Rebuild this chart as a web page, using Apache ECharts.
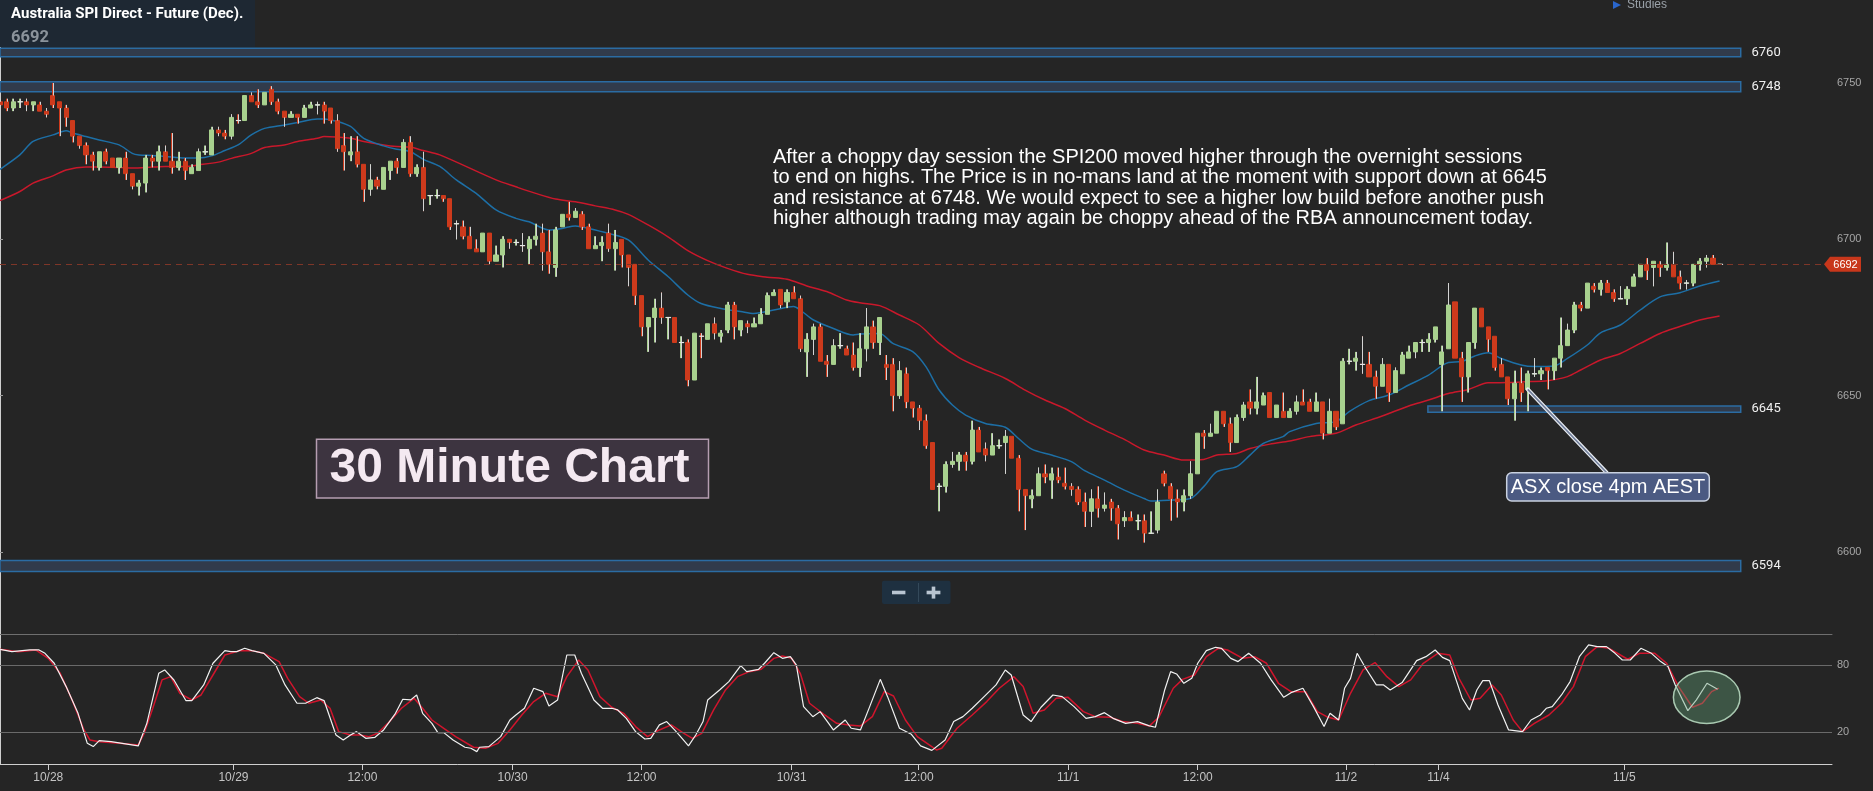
<!DOCTYPE html>
<html><head><meta charset="utf-8">
<script src="https://cdn.jsdelivr.net/npm/echarts@6/dist/echarts.min.js"></script>
<style>html,body{margin:0;padding:0;background:#252525;overflow:hidden}#c{width:1873px;height:791px}</style>
</head><body><div id="c"></div>
<script>
// ---------- DATA ----------
const titleText = 'Australia SPI Direct - Future (Dec).';
const lastPrice = 6692;
// 30-minute candles: [open, close, low, high]
const ohlc = [
[6744,6743,6742,6745],[6744,6742,6741,6745],[6742,6744,6741,6745],[6744,6744,6742,6745],[6744,6743,6741,6745],
[6743,6744,6741,6744],[6743,6741,6741,6744],[6741,6740,6739,6742],[6746,6743,6742,6750],[6744,6742,6733,6744],
[6742,6739,6736,6743],[6738,6733,6731,6738],[6733,6730,6729,6733],[6730,6727,6724,6731],[6727,6725,6722,6728],
[6723,6728,6722,6728],[6728,6725,6724,6729],[6726,6723,6723,6726],[6723,6726,6721,6726],[6726,6721,6719,6728],
[6721,6717,6716,6721],[6717,6718,6714,6719],[6718,6726,6715,6727],[6726,6725,6723,6727],[6725,6728,6722,6730],
[6728,6725,6725,6730],[6725,6723,6721,6734],[6723,6725,6722,6728],[6725,6722,6719,6726],[6721,6723,6721,6724],
[6722,6728,6722,6729],[6728,6728,6727,6730],[6727,6735,6727,6736],[6735,6734,6733,6736],[6734,6733,6732,6735],
[6733,6739,6732,6740],[6738,6738,6737,6740],[6738,6746,6738,6746],[6746,6744,6744,6747],[6744,6743,6742,6748],
[6743,6747,6743,6747],[6748,6744,6743,6749],[6744,6741,6740,6745],[6741,6739,6736,6741],[6739,6740,6739,6741],
[6740,6739,6737,6740],[6739,6742,6739,6743],[6742,6743,6742,6744],[6743,6743,6740,6744],[6743,6741,6737,6744],
[6742,6738,6737,6742],[6738,6729,6728,6740],[6730,6728,6722,6734],[6727,6728,6725,6733],[6728,6724,6723,6733],
[6724,6716,6712,6724],[6716,6719,6714,6724],[6719,6717,6716,6720],[6716,6723,6716,6723],[6722,6725,6719,6725],
[6725,6723,6721,6726],[6723,6731,6723,6732],[6731,6721,6720,6733],[6721,6723,6720,6724],[6723,6713,6709,6728],
[6714,6714,6711,6714],[6714,6714,6713,6716],
[6714,6713,6712,6714],[6713,6704,6703,6713],[6705,6705,6700,6706],[6704,6701,6700,6706],[6701,6697,6697,6704],
[6697,6696,6696,6700],[6696,6702,6696,6702],[6702,6693,6692,6702],[6693,6695,6693,6698],[6695,6700,6691,6701],
[6700,6699,6697,6700],[6699,6699,6698,6700],[6698,6698,6696,6702],[6697,6700,6692,6701],[6700,6701,6698,6705],
[6702,6696,6690,6705],[6696,6692,6689,6703],[6691,6703,6688,6704],[6704,6708,6704,6708],[6708,6707,6706,6712],
[6707,6709,6707,6710],[6708,6704,6703,6709],[6704,6697,6697,6705],[6697,6698,6697,6701],[6698,6699,6693,6701],
[6702,6697,6696,6705],[6697,6699,6690,6703],[6700,6695,6691,6700],[6695,6691,6685,6695],[6692,6682,6679,6692],
[6682,6672,6669,6682],[6672,6675,6664,6675],[6675,6678,6667,6681],[6678,6675,6673,6683],[6675,6675,6668,6675],
[6675,6667,6667,6675],[6667,6667,6662,6669],[6667,6655,6653,6668],[6655,6670,6655,6670],[6669,6669,6662,6670],
[6668,6673,6668,6673],[6673,6670,6668,6675],[6669,6670,6667,6671],[6671,6679,6670,6680],[6679,6672,6668,6680],
[6671,6674,6669,6674],[6673,6672,6670,6674],[6672,6673,6672,6675],[6673,6676,6673,6678],[6676,6682,6676,6683],
[6682,6683,6682,6684],[6684,6679,6678,6684],[6680,6683,6678,6684],[6683,6681,6681,6685],[6681,6665,6664,6682],
[6664,6668,6656,6670],[6668,6672,6663,6673],[6672,6661,6661,6673],[6661,6660,6656,6663],[6660,6666,6660,6668],
[6666,6666,6665,6670],[6665,6663,6663,6666],[6663,6659,6658,6667],[6659,6665,6656,6670],[6665,6672,6661,6678],
[6672,6667,6665,6674],[6667,6675,6663,6675],[6660,6659,6655,6663],[6660,6650,6645,6662],[6650,6658,6649,6661],
[6657,6648,6646,6659],[6648,6646,6643,6648],[6646,6642,6639,6647],[6642,6634,6633,6644],[6635,6620,6620,6635],
[6621,6621,6613,6622],[6621,6628,6619,6629],[6628,6629,6627,6632],[6629,6631,6626,6632],[6631,6629,6626,6632],
[6629,6639,6628,6642],[6639,6632,6632,6640],[6633,6631,6629,6635],[6631,6634,6631,6638],[6634,6634,6633,6636],
[6635,6637,6625,6639],[6637,6630,6630,6637],[6630,6620,6613,6631],[6620,6618,6607,6620],[6617,6618,6614,6620],
[6618,6625,6618,6627],[6625,6624,6622,6628],[6623,6625,6617,6627],[6624,6623,6622,6627],[6622,6621,6620,6627],
[6621,6620,6618,6622],[6620,6616,6615,6621],[6616,6613,6608,6619],[6613,6617,6608,6620],[6617,6614,6611,6621],
[6614,6615,6613,6619],[6616,6614,6610,6617],[6614,6609,6604,6615],[6610,6611,6608,6613],[6611,6610,6610,6613],
[6610,6610,6607,6612],[6610,6606,6603,6612],[6606,6606,6606,6613],[6607,6616,6606,6620],[6625,6622,6621,6626],
[6621,6617,6610,6622],[6617,6616,6611,6620],[6616,6618,6613,6620],[6618,6625,6617,6629],[6625,6638,6625,6638],
[6638,6637,6633,6639],[6637,6638,6637,6641],[6638,6645,6638,6645],[6645,6641,6640,6645],[6641,6635,6632,6643],
[6635,6643,6635,6644],[6643,6647,6642,6648],[6648,6646,6644,6652],[6646,6648,6644,6656],[6647,6650,6647,6651],
[6651,6643,6643,6651],[6643,6647,6643,6647],[6645,6643,6643,6651],[6643,6645,6643,6646],[6645,6648,6644,6650],
[6648,6647,6647,6652],[6648,6645,6645,6649],[6645,6648,6645,6651],[6648,6638,6636,6648],[6638,6645,6638,6649],
[6645,6640,6639,6645],[6641,6661,6641,6662],[6661,6661,6660,6665],[6661,6662,6658,6664],[6660,6660,6657,6669],
[6660,6656,6656,6664],[6656,6653,6649,6658],[6653,6660,6653,6662],[6660,6651,6648,6660],[6651,6658,6651,6659],
[6657,6663,6657,6664],[6662,6664,6662,6666],[6664,6667,6662,6667],[6667,6667,6664,6668],[6667,6668,6664,6670],
[6668,6672,6667,6672],[6660,6664,6645,6666],[6665,6679,6665,6686],[6680,6662,6662,6680],[6662,6656,6648,6664],
[6656,6667,6651,6667],[6667,6678,6665,6678],[6678,6672,6672,6678],[6672,6668,6664,6672],[6669,6659,6658,6669],
[6660,6656,6656,6662],[6656,6649,6647,6656],[6649,6654,6642,6658],[6654,6651,6648,6659],[6652,6657,6645,6658],
[6657,6657,6656,6662],[6657,6658,6655,6659],[6659,6658,6652,6659],[6658,6662,6655,6662],[6662,6666,6659,6675],
[6666,6671,6666,6673],[6671,6679,6670,6680],[6679,6678,6677,6680],[6678,6686,6678,6686],[6685,6684,6683,6686],
[6684,6686,6682,6687],[6686,6683,6683,6687],[6683,6681,6680,6684],[6681,6681,6681,6685],[6681,6684,6679,6685],
[6685,6688,6685,6689],[6688,6692,6688,6692],[6692,6690,6687,6694],[6691,6693,6685,6693],[6692,6691,6688,6693],
[6691,6692,6690,6699],[6692,6688,6688,6696],[6688,6686,6684,6690],[6686,6686,6684,6687],[6686,6692,6685,6692],
[6692,6693,6690,6694],[6693,6694,6691,6695],[6694,6692,6692,6695],[6692,6692,6692,6692]
];
const slotCount = 278; // bar slots on the time axis (incl. empty right margin)
// time axis tick labels (bar-slot positions)
const xTickPos = [7.3, 35.3, 54.8, 77.5, 97.0, 119.7, 138.9, 161.5, 181.1, 203.5, 217.5, 245.6];
const xTickLabels = ['10/28','10/29','12:00','10/30','12:00','10/31','12:00','11/1','12:00','11/2','11/4','11/5'];
const priceTicks = [6600, 6650, 6700, 6750];
const oscTicks = [20, 80];
// support / resistance bands
const levels = [6760, 6748, 6645, 6594];
const levelLow = [6758.4, 6747.2, 6644.7, 6593.8];
const levelHigh = [6761.1, 6750.4, 6646.7, 6597.3];
const levelFrom = [0, 0, 215.9, 0];
const levelTo = [263.2, 263.2, 263.2, 263.2];
// moving averages: [slot, price]
const maFast = [[0,6722.4],[3,6727],[5,6731.3],[8,6733.4],[10,6734.7],[11,6734],[13,6732.9],[15,6731.8],[18,6730.2],[20,6727.5],[21,6727],[23,6726.8],[25,6726.5],[28,6726],[30,6726],[32,6726.7],[34,6728.4],[36,6730.2],[38,6733.4],[40,6735.5],[43,6736.6],[45,6737.4],[48,6738.5],[49,6738.5],[51,6737.7],[53,6736.1],[55,6732.3],[58,6729.9],[60,6728.8],[62,6728.1],[64,6725.6],[66.5,6723.3],[69,6719],[72,6714.7],[75,6709.4],[78,6706.7],[80,6705.6],[83,6703],[85,6703.5],[87,6704.3],[89,6703.5],[92,6701.9],[95,6699.8],[98,6693.4],[101,6688.1],[104,6682.2],[106,6679.5],[109,6677.9],[112,6676.9],[114,6676.3],[117,6677.4],[120,6678.5],[121,6677.4],[123,6674.2],[126,6671.5],[129,6669.4],[130,6669.7],[133,6669.9],[135,6666.7],[138,6664.1],[140,6659.3],[142,6651.8],[144,6647],[146,6643.8],[149,6641.1],[152,6639.9],[154,6636.3],[156,6632.9],[159,6631],[162,6628.9],[164,6626],[167,6623],[170,6619.8],[173,6617.1],[174,6616.3],[177,6616.6],[180,6617.1],[182,6620.9],[184,6625.7],[187,6627.3],[189,6631],[191,6634.7],[194,6636.9],[195,6638.5],[199,6641.1],[202,6641.7],[204,6644.9],[207,6648.4],[210,6650.2],[213,6653.4],[216,6656.6],[219,6660.6],[221,6660.9],[223,6662.7],[225,6663.7],[227,6661.9],[230,6659.8],[232,6659.3],[235,6659.5],[237,6661.9],[240,6666.2],[242,6670.1],[245,6672.6],[248,6677.4],[251,6681.6],[254,6682.9],[257,6685.1],[260,6686.7]];
const maSlow = [[0,6712.4],[3,6715.3],[5,6718],[8,6720.3],[10,6722.2],[13,6723.1],[15,6723.1],[18,6723],[20,6722.8],[23,6723.1],[25,6723.3],[28,6723.3],[30,6723.8],[33,6724.7],[35,6725.9],[38,6727.5],[40,6729.4],[43,6730.2],[45,6731.3],[48,6732.3],[49,6732.9],[51,6732.7],[53,6732.3],[55,6731.3],[58,6730.2],[60,6729.7],[62,6729.5],[64,6728.4],[66.5,6727],[75,6719],[78,6716.8],[81,6714.7],[84,6712.9],[87,6712.0],[90,6710.7],[93,6709.4],[95,6708],[98,6704.6],[101,6700.8],[104,6696.4],[107,6693.2],[110,6690.7],[113,6688.8],[116,6687.9],[119,6687.2],[122,6685.1],[125,6683.3],[128,6680.6],[130,6679.7],[133,6678.8],[136,6675.8],[139,6672.6],[142,6666.7],[145,6662.2],[148,6659.1],[152,6655.5],[155,6651.8],[158,6648.6],[161,6645.9],[164,6642.2],[167,6639],[170,6636],[173,6632.6],[176,6631],[179,6629.4],[182,6629.6],[184,6631],[187,6631.5],[189,6633.1],[192,6634.5],[195,6635.5],[198,6636.9],[202,6638],[205,6640.6],[209,6643.5],[213,6646.7],[216,6648.6],[219,6650.7],[222,6652],[225,6654.1],[228,6654.2],[231,6654.5],[234,6654.8],[237,6656.1],[239,6658.2],[242,6661.4],[245,6663.5],[248,6666.7],[251,6669.9],[254,6672.1],[257,6674.2],[260,6675.5]];
// stochastic oscillator: [slot, value]
const stochK = [[0,94.3],[1.8,92.2],[4.5,93.7],[5.9,93.7],[6.8,90.7],[8.2,81.8],[10.0,60.9],[11.8,37.0],[13.2,10.1],[14.1,7.2],[15.0,12.5],[16.8,11.6],[20.9,7.8],[22.2,28.0],[24.0,72.8],[24.9,75.8],[26.3,66.8],[28.1,48.4],[29.0,48.4],[30.8,62.4],[32.2,81.8],[34.0,93.1],[34.9,92.2],[35.8,92.2],[37.0,95.2],[38.1,93.1],[39.9,90.7],[41.7,80.3],[43.1,62.4],[44.9,46.0],[46.2,46.0],[47.9,51.0],[49.0,48.4],[50.8,17.6],[51.9,13.1],[53.0,17.6],[53.9,20.6],[55.3,14.6],[56.7,15.5],[58.0,22.1],[59.8,37.0],[60.9,49.6],[62.1,49.0],[63.0,53.4],[63.9,37.0],[65.3,28.0],[66.2,19.7],[67.1,19.7],[68.5,13.1],[70.3,6.6],[71.2,5.7],[72.1,2.7],[72.5,6.6],[73.9,7.2],[75.7,16.1],[77.1,31.0],[78.0,35.5],[79.3,41.5],[80.7,59.4],[82.1,56.4],[83.0,43.6],[84.3,48.9],[85.7,89.2],[86.9,89.2],[87.9,72.8],[89.8,48.9],[91.1,41.5],[92.5,41.5],[93.4,40.0],[94.7,32.5],[96.1,20.6],[97.5,14.0],[98.4,14.6],[99.7,26.6],[100.8,29.6],[102.0,22.1],[102.9,16.1],[104.1,7.8],[105.2,17.6],[106.3,29.6],[107.0,48.9],[108.8,57.9],[110.2,65.4],[112.0,79.7],[112.9,74.3],[114.7,76.4],[115.6,81.8],[117.0,91.3],[118.3,86.2],[119.5,87.7],[120.4,80.3],[121.5,43.0],[122.9,34.0],[124.0,38.5],[125.1,29.6],[126.0,22.1],[127.8,31.0],[128.7,23.6],[130.1,22.1],[131.5,43.0],[133.1,67.4],[134.2,51.9],[136.0,23.6],[137.8,18.2],[139.2,7.8],[140.9,3.8],[142.9,13.1],[144.2,29.6],[145.6,34.0],[147.0,41.5],[148.8,51.9],[150.6,62.4],[152.0,75.8],[152.9,71.3],[154.7,35.5],[155.9,29.6],[157.4,42.4],[159.2,53.4],[160.6,51.9],[162.4,43.0],[164.2,32.5],[165.6,34.0],[167.0,37.6],[168.3,32.5],[170.2,28.0],[172.0,29.6],[173.8,25.7],[174.7,24.5],[176.1,57.9],[177.0,74.3],[177.9,72.2],[179.0,63.9],[180.2,68.3],[181.1,81.8],[182.4,93.1],[183.8,96.1],[184.7,95.2],[186.1,86.2],[187.2,83.3],[188.8,90.7],[190.6,81.8],[192.2,66.9],[194.1,51.3],[195.2,55.5],[197.0,59.4],[198.6,43.0],[200.2,25.1],[201.1,37.0],[202.4,31.0],[203.3,59.4],[204.2,68.3],[205.2,90.7],[206.5,77.3],[208.1,62.4],[209.2,62.4],[210.2,57.9],[212.0,64.5],[214.2,84.2],[215.6,87.7],[217.0,93.7],[218.1,87.1],[219.2,84.2],[221.1,50.4],[222.2,40.0],[223.3,57.9],[224.2,66.2],[225.2,66.2],[226.5,44.5],[228.1,22.1],[230.2,20.6],[231.5,31.0],[232.9,35.5],[233.8,41.5],[234.7,43.0],[236.1,53.4],[237.4,65.4],[238.8,87.7],[240.2,98.2],[241.5,96.7],[242.9,96.7],[244.2,90.7],[245.3,84.7],[246.5,84.7],[248.1,95.2],[249.7,90.7],[251.1,83.3],[252.2,78.8],[253.3,62.4],[255.2,39.4],[256.5,49.0],[258.1,63.9],[259.7,58.5]];
const stochD = [[0,94.3],[2.7,92.2],[5.4,93.7],[7.3,86.2],[9.1,72.8],[10.9,48.9],[12.7,22.1],[13.6,13.1],[15.0,11.6],[18.1,10.1],[20.9,8.7],[21.8,19.1],[23.1,41.5],[24.5,66.9],[25.8,69.8],[27.2,54.9],[29.0,48.9],[30.4,53.4],[32.2,71.3],[34.0,89.2],[36.3,93.1],[38.1,93.1],[39.9,90.7],[42.2,83.3],[43.5,68.3],[45.3,51.9],[46.7,46.0],[48.5,48.9],[49.9,41.5],[51.2,20.6],[53.0,17.6],[54.4,17.6],[55.8,16.1],[57.1,19.1],[58.9,29.6],[60.7,41.5],[62.6,50.4],[63.9,41.5],[65.3,31.0],[67.1,23.6],[68.9,16.1],[71.6,6.6],[73.4,5.7],[75.3,10.1],[77.1,22.1],[78.9,35.5],[80.7,47.5],[82.5,54.9],[84.3,51.9],[85.7,69.8],[87.5,84.7],[88.9,75.8],[90.7,51.9],[92.5,42.4],[94.3,37.0],[96.1,25.1],[97.9,16.1],[99.7,22.1],[101.5,26.6],[103.4,19.1],[104.7,14.6],[106.1,19.1],[107.9,40.0],[109.7,57.9],[111.5,69.8],[113.3,74.3],[115.1,76.4],[117.0,86.2],[118.3,88.3],[119.7,86.2],[121.0,72.8],[122.4,46.0],[124.7,35.5],[126.5,28.0],[128.3,26.6],[130.1,25.7],[131.9,34.0],[133.7,56.4],[135.1,52.5],[136.9,31.0],[138.7,16.1],[140.5,8.7],[141.6,4.2],[142.4,5.7],[144.7,23.6],[147.0,35.5],[149.2,47.5],[151.1,59.4],[153.3,69.8],[154.7,60.9],[156.2,37.0],[157.9,40.0],[159.7,50.4],[161.5,51.3],[163.8,38.5],[165.6,34.0],[167.9,33.4],[169.7,29.6],[172.0,28.0],[173.8,25.7],[175.2,33.4],[177.4,59.4],[178.8,67.4],[180.6,71.3],[182.4,87.7],[184.2,95.2],[185.6,93.7],[187.9,86.2],[189.7,87.7],[191.5,81.8],[193.3,63.9],[195.2,56.4],[197.4,56.4],[199.2,38.5],[200.6,34.0],[202.4,31.0],[204.2,54.9],[206.1,75.8],[207.9,82.4],[209.7,69.8],[211.5,60.9],[213.3,66.9],[215.2,81.8],[217.4,90.7],[219.2,89.2],[220.6,68.3],[222.4,48.9],[223.8,50.4],[225.6,62.4],[227.0,53.4],[228.8,31.0],[230.2,20.6],[232.0,28.0],[234.2,35.5],[236.1,46.0],[237.9,60.9],[239.7,87.7],[241.5,96.7],[243.3,95.2],[246.1,85.4],[247.9,90.7],[250.2,90.7],[252.0,81.8],[253.8,60.9],[255.9,42.4],[257.4,46.0],[258.8,56.4],[259.9,59.5]];
const noteLines = [
  'After a choppy day session the SPI200 moved higher through the overnight sessions',
  'to end on highs. The Price is in no-mans land at the moment with support down at 6645',
  'and resistance at 6748. We would expect to see a higher low build before another push',
  'higher although trading may again be choppy ahead of the RBA announcement today.'
];
const chartLabel = '30 Minute Chart';
const closeLabel = 'ASX close 4pm AEST';
const closeAnchor = [231, 6652]; // candle slot & price the callout points at

// ---------- CHART ----------
const chart = echarts.init(document.getElementById('c'), null, {renderer: 'canvas'});
const cats = Array.from({length: slotCount}, (_, i) => String(i));
const wickData = ohlc.map((d, i) => [i, d[0], d[1], d[2], d[3]]);
const UP = '#a8d18e', DOWN = '#cd3a1c', WICK = '#d4d4d4';
const AXC = '#cfcfcf';
const sansFont = '"Liberation Sans", Arial, sans-serif';
const plain = v => String(v);

const option = {
  backgroundColor: '#252525',
  animation: false,
  grid: [
    {left: 0, right: 41, top: 0, height: 634},
    {left: 0, right: 41, top: 634, height: 130}
  ],
  xAxis: [
    {type: 'category', gridIndex: 0, data: cats, boundaryGap: false,
     axisLine: {show: true, onZero: false, lineStyle: {color: '#6f6f6f'}},
     axisTick: {show: false}, axisLabel: {show: false}, splitLine: {show: false}},
    {type: 'value', gridIndex: 0, min: 0, max: slotCount - 1, show: false},
    {type: 'value', gridIndex: 1, min: 0, max: slotCount - 1,
     axisLine: {show: true, onZero: false, lineStyle: {color: AXC, width: 1}},
     axisTick: {show: true, length: 6, customValues: xTickPos, lineStyle: {color: AXC}},
     axisLabel: {customValues: xTickPos, color: '#c4c4c4', fontSize: 12, fontFamily: sansFont, margin: 8,
       formatter: v => { const k = xTickPos.findIndex(p => Math.abs(p - v) < 1e-6); return k >= 0 ? xTickLabels[k] : ''; }},
     splitLine: {show: false}}
  ],
  yAxis: [
    {type: 'value', gridIndex: 0, position: 'right', min: 6573.77, max: 6776.55,
     axisLine: {show: true, lineStyle: {color: AXC}},
     axisTick: {show: true, length: 3, customValues: priceTicks, lineStyle: {color: '#9a9a9a'}},
     axisLabel: {customValues: priceTicks, formatter: plain, color: '#a6a6a6', fontSize: 11, fontFamily: sansFont, margin: 5},
     splitLine: {show: false}},
    {type: 'value', gridIndex: 1, position: 'right', min: -8.39, max: 108.0,
     axisLine: {show: true, lineStyle: {color: AXC}},
     axisTick: {show: true, length: 3, customValues: oscTicks, lineStyle: {color: '#9a9a9a'}},
     axisLabel: {customValues: oscTicks, formatter: plain, color: '#a6a6a6', fontSize: 11, fontFamily: sansFont, margin: 5},
     splitLine: {show: false}}
  ],
  series: [
    {name: 'MA slow', type: 'line', xAxisIndex: 1, yAxisIndex: 0, data: maSlow, smooth: 0.3,
     symbol: 'none', z: 2, lineStyle: {color: '#c9182b', width: 1.5},
     markArea: {silent: true,
       itemStyle: {color: '#313b4b', borderColor: '#2b6ca3', borderWidth: 1.5},
       label: {show: true, position: 'right', distance: 10, color: '#f0f0f0', fontSize: 13, fontFamily: 'Roboto, sans-serif'},
       data: levels.map((lv, k) => [
         {name: String(lv), xAxis: levelFrom[k], yAxis: levelLow[k]},
         {xAxis: levelTo[k], yAxis: levelHigh[k]}
       ])}},
    {name: 'MA fast', type: 'line', xAxisIndex: 1, yAxisIndex: 0, data: maFast, smooth: 0.3,
     symbol: 'none', z: 2, lineStyle: {color: '#1d6fa6', width: 1.5}},
    {name: 'SPI', type: 'candlestick', xAxisIndex: 0, yAxisIndex: 0, data: ohlc, barWidth: 4.6, z: 3,
     itemStyle: {color: UP, color0: DOWN, borderColor: UP, borderColor0: DOWN, borderWidth: 1},
     markLine: {silent: true, symbol: 'none', label: {show: false},
       lineStyle: {type: [6, 5], color: '#7e3628', width: 1},
       data: [{yAxis: lastPrice}]}},
    {name: 'wicks', type: 'custom', xAxisIndex: 0, yAxisIndex: 0, data: wickData, z: 4,
     encode: {x: 0, y: [1, 2, 3, 4]},
     renderItem: (params, api) => {
       const i = api.value(0), o = api.value(1), c = api.value(2), l = api.value(3), h = api.value(4);
       const top = Math.max(o, c), bot = Math.min(o, c);
       const pH = api.coord([i, h]), pT = api.coord([i, top]), pB = api.coord([i, bot]), pL = api.coord([i, l]);
       const x = Math.round(pH[0]) + 0.5;
       const ch = [];
       if (h > top) ch.push({type: 'line', shape: {x1: x, y1: pH[1], x2: x, y2: pT[1]}, style: {stroke: WICK, lineWidth: 1}});
       if (l < bot) ch.push({type: 'line', shape: {x1: x, y1: pB[1], x2: x, y2: pL[1]}, style: {stroke: WICK, lineWidth: 1}});
       if (o === c) ch.push({type: 'line', shape: {x1: x - 2.6, y1: pT[1], x2: x + 2.6, y2: pT[1]}, style: {stroke: '#e6e6e6', lineWidth: 1.2}});
       return {type: 'group', children: ch};
     }},
    {name: '%D', type: 'line', xAxisIndex: 2, yAxisIndex: 1, data: stochD, symbol: 'none', z: 3,
     lineStyle: {color: '#d0152d', width: 1.5},
     markLine: {silent: true, symbol: 'none', label: {show: false},
       lineStyle: {type: 'solid', color: '#6a6a6a', width: 1},
       data: oscTicks.map(v => ({yAxis: v}))}},
    {name: '%K', type: 'line', xAxisIndex: 2, yAxisIndex: 1, data: stochK, symbol: 'none', z: 4,
     lineStyle: {color: '#f2f2f2', width: 1.2}}
  ]
};
chart.setOption(option);

// ---------- ANNOTATIONS ----------
const py = chart.convertToPixel({yAxisIndex: 0}, lastPrice);
const anchor = chart.convertToPixel({xAxisIndex: 0, yAxisIndex: 0}, closeAnchor);
const axisX = 1873 - 41;
const gfx = [
  {type: 'rect', z: 100, shape: {x: 0, y: 0, width: 255, height: 47}, style: {fill: '#1e2833'}},
  {type: 'text', z: 101, style: {text: titleText, x: 11, y: 14.5, fill: '#ffffff', font: 'bold 15px Roboto, sans-serif', align: 'left', verticalAlign: 'middle'}},
  {type: 'text', z: 101, style: {text: String(lastPrice), x: 11, y: 37.5, fill: '#8b939b', font: 'bold 16.5px Roboto, sans-serif', align: 'left', verticalAlign: 'middle'}},
  {type: 'polygon', z: 101, shape: {points: [[1613, 1], [1621, 5], [1613, 9]]}, style: {fill: '#2a66cc'}},
  {type: 'text', z: 101, style: {text: 'Studies', x: 1627, y: 4.7, fill: '#9aa1a8', font: '12px ' + sansFont, align: 'left', verticalAlign: 'middle'}},
  {type: 'text', z: 101, style: {text: noteLines.join('\n'), x: 773, y: 146.8, fill: '#ffffff', font: '20px ' + sansFont, lineHeight: 20.5, align: 'left', verticalAlign: 'top'}},
  {type: 'rect', z: 101, shape: {x: 316.5, y: 439.3, width: 392, height: 58.7}, style: {fill: '#3d3440', stroke: '#b59db1', lineWidth: 1.5}},
  {type: 'text', z: 102, style: {text: chartLabel, x: 329.5, y: 468.7, fill: '#f4e9f1', font: 'bold 48px ' + sansFont, align: 'left', verticalAlign: 'middle'}},
  {type: 'rect', z: 101, shape: {x: 882, y: 580.7, width: 68.5, height: 23.3, r: 2}, style: {fill: '#1e3040'}},
  {type: 'line', z: 102, shape: {x1: 918.5, y1: 583, x2: 918.5, y2: 602}, style: {stroke: '#34495a', lineWidth: 1}},
  {type: 'rect', z: 102, shape: {x: 892, y: 590.7, width: 13.4, height: 3.6}, style: {fill: '#b9c5d1'}},
  {type: 'rect', z: 102, shape: {x: 926.6, y: 590.7, width: 13.8, height: 3.6}, style: {fill: '#b9c5d1'}},
  {type: 'rect', z: 102, shape: {x: 931.7, y: 586.6, width: 3.6, height: 12}, style: {fill: '#b9c5d1'}},
  {type: 'line', z: 101, shape: {x1: 1606.7, y1: 472.7, x2: anchor[0], y2: anchor[1]}, style: {stroke: '#e8ecf2', lineWidth: 4, lineCap: 'round'}},
  {type: 'line', z: 102, shape: {x1: 1606.7, y1: 472.7, x2: anchor[0], y2: anchor[1]}, style: {stroke: '#6f7c98', lineWidth: 1.6}},
  {type: 'rect', z: 103, shape: {x: 1506.7, y: 472.7, width: 202.6, height: 28.3, r: 5}, style: {fill: '#4b5a82', stroke: '#c9d1e0', lineWidth: 1.5}},
  {type: 'text', z: 104, style: {text: closeLabel, x: 1608, y: 487, fill: '#ffffff', font: '20px ' + sansFont, align: 'center', verticalAlign: 'middle'}},
  {type: 'ellipse', z: 103, shape: {cx: 1706.7, cy: 697.3, rx: 33.3, ry: 26.2}, style: {fill: 'rgba(97,157,117,0.4)', stroke: '#a9c9b1', lineWidth: 1.5}},
  {type: 'polygon', z: 103, shape: {points: [[axisX - 8, py], [axisX - 2, py - 7.5], [axisX + 29, py - 7.5], [axisX + 29, py + 7.5], [axisX - 2, py + 7.5]]}, style: {fill: '#c8371b'}},
  {type: 'text', z: 104, style: {text: String(lastPrice), x: axisX + 13.5, y: py + 0.5, fill: '#ffffff', font: '11px ' + sansFont, align: 'center', verticalAlign: 'middle'}}
];
chart.setOption({graphic: gfx});
</script>
</body></html>
